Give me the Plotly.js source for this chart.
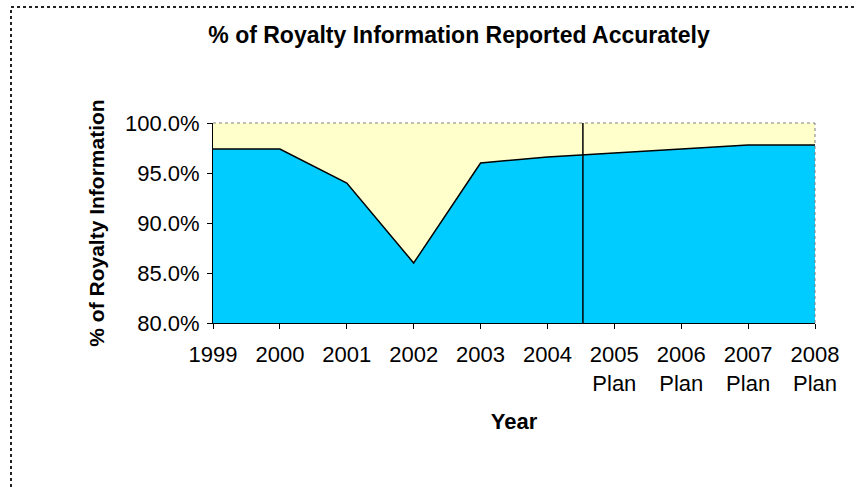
<!DOCTYPE html>
<html>
<head>
<meta charset="utf-8">
<script src="https://cdn.plot.ly/plotly-3.0.1.min.js"></script>
<style>html,body{margin:0;padding:0;background:#fff;}#chart{width:854px;height:489px;}</style>
</head>
<body>
<div id="chart"></div>
<script>
const categories = ["1999", "2000", "2001", "2002", "2003", "2004", "2005<br>Plan", "2006<br>Plan", "2007<br>Plan", "2008<br>Plan"];
const accuracyPct = [97.4, 97.4, 94.0, 86.0, 96.0, 96.6, 97.0, 97.4, 97.8, 97.8];
const yTickValues = [80, 85, 90, 95, 100];
const yTickLabels = yTickValues.map(v => v.toFixed(1) + "%");
const planStartPosition = 5.53;

const FONT = "Liberation Sans, Arial, sans-serif";

const trace = {
  type: "scatter",
  mode: "lines",
  x: categories,
  y: accuracyPct,
  fill: "tozeroy",
  fillcolor: "#00CCFF",
  line: {color: "#000000", width: 1.5},
  hoverinfo: "x+y",
  showlegend: false
};

const layout = {
  width: 854,
  height: 489,
  margin: {l: 213, r: 39, t: 123, b: 166, pad: 0},
  paper_bgcolor: "#FFFFFF",
  plot_bgcolor: "#FFFFCC",
  font: {family: FONT, color: "#000000", size: 22},
  title: {
    text: "<b>% of Royalty Information Reported Accurately</b>",
    font: {family: FONT, size: 23, color: "#000000"},
    xref: "container", x: 459 / 854, xanchor: "center",
    yref: "container", y: 1 - 35 / 489, yanchor: "middle"
  },
  xaxis: {
    type: "category",
    range: [0, categories.length - 1],
    showgrid: false,
    zeroline: false,
    showline: true,
    linecolor: "#000000",
    linewidth: 1,
    ticks: "outside",
    ticklen: 5,
    tickwidth: 1,
    tickcolor: "#000000",
    ticklabelstandoff: 7,
    tickfont: {family: FONT, size: 22, color: "#000000"},
    title: {text: "<b>Year</b>", font: {family: FONT, size: 22, color: "#000000"}, standoff: 18},
    automargin: false,
    fixedrange: true
  },
  yaxis: {
    range: [80, 100],
    tickvals: yTickValues,
    ticktext: yTickLabels,
    showgrid: false,
    zeroline: false,
    showline: true,
    linecolor: "#000000",
    linewidth: 1,
    ticks: "outside",
    ticklen: 5,
    tickwidth: 1,
    tickcolor: "#000000",
    ticklabelstandoff: 3,
    tickfont: {family: FONT, size: 22, color: "#000000"},
    title: {text: "<b>% of Royalty Information</b>", font: {family: FONT, size: 21, color: "#000000"}, standoff: 14},
    automargin: false,
    fixedrange: true
  },
  shapes: [
    {type: "line", xref: "x", yref: "y", x0: planStartPosition, x1: planStartPosition, y0: 80, y1: 100,
     line: {color: "#000000", width: 1.5}},
    {type: "line", xref: "paper", yref: "paper", x0: 0, x1: 1, y0: 1, y1: 1,
     line: {color: "#808080", width: 1, dash: "dot"}},
    {type: "line", xref: "paper", yref: "paper", x0: 1, x1: 1, y0: 0, y1: 1,
     line: {color: "#808080", width: 1, dash: "dot"}},
    {type: "line", xref: "paper", yref: "paper", x0: (11 - 213) / 602, x1: 1.2, y0: (323 - 7) / 200, y1: (323 - 7) / 200,
     line: {color: "#222222", width: 2, dash: "dot"}},
    {type: "line", xref: "paper", yref: "paper", x0: (11 - 213) / 602, x1: (11 - 213) / 602, y0: -1, y1: (323 - 7) / 200,
     line: {color: "#222222", width: 2, dash: "dot"}}
  ]
};

Plotly.newPlot("chart", [trace], layout, {displayModeBar: false});
</script>
</body>
</html>
